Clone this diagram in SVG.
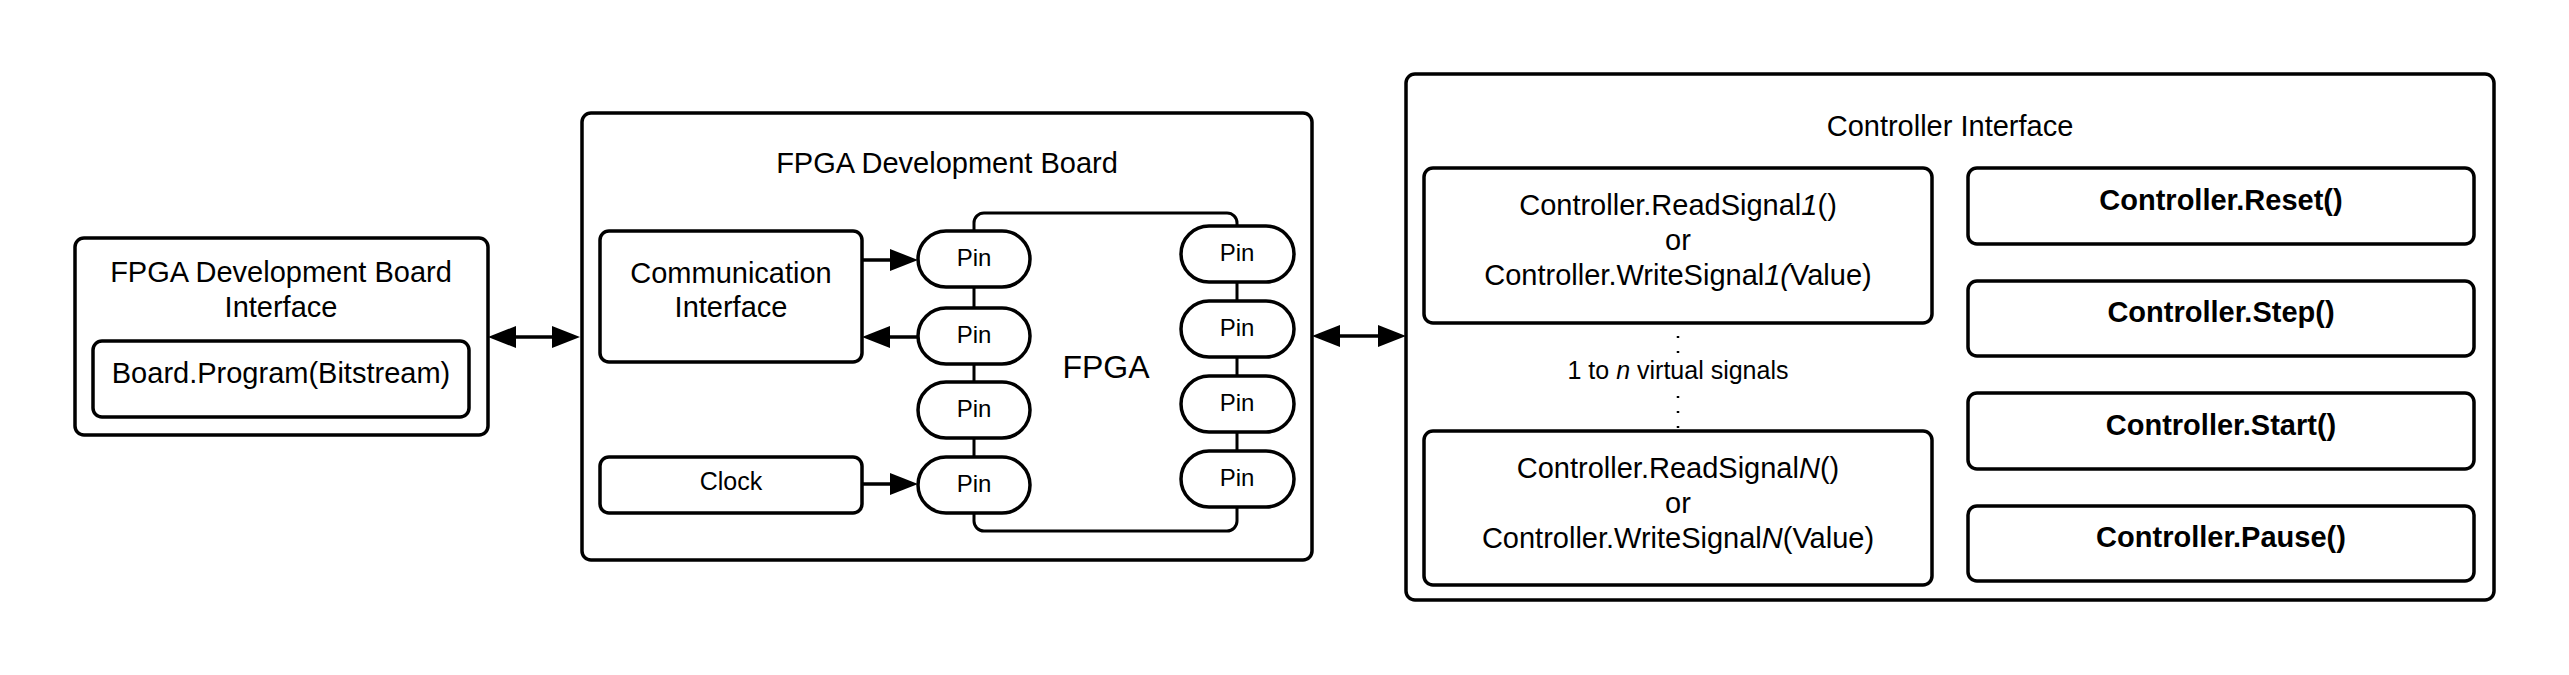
<svg xmlns="http://www.w3.org/2000/svg" width="2569" height="675" viewBox="0 0 2569 675">
<style>
.box{fill:#fff;stroke:#000;stroke-width:3.5}
.pin{fill:#fff;stroke:#000;stroke-width:3.5}
.chip{fill:#fff;stroke:#000;stroke-width:3}
.t{font-family:"Liberation Sans",Arial,sans-serif;font-size:29px;fill:#000;text-anchor:middle}
.b{font-weight:bold}
.p{font-size:24px}
.s{font-size:25px}
.f{font-size:32px}
.c{stroke:#000;stroke-width:3.5;fill:none}
.dot{stroke:#000;stroke-width:2.5;fill:none;stroke-dasharray:2 13}
</style>
<defs>
<marker id="ah" markerUnits="userSpaceOnUse" markerWidth="30" markerHeight="24" refX="22" refY="11" orient="auto-start-reverse">
<path d="M0,0 L28,11 L0,22 z" fill="#000"/>
</marker>
</defs>
<rect width="2569" height="675" fill="#fff"/>

<g id="board-interface">
<rect class="box" x="75" y="238" width="413" height="197" rx="9"/>
<text class="t" x="281" y="282">FPGA Development Board</text>
<text class="t" x="281" y="317">Interface</text>
<g id="board-program">
<rect class="box" x="93" y="341" width="376" height="76" rx="9"/>
<text class="t" x="281" y="383">Board.Program(Bitstream)</text>
</g>
</g>

<g id="dev-board">
<rect class="box" x="582" y="113" width="730" height="447" rx="9"/>
<text class="t" x="947" y="173">FPGA Development Board</text>
</g>

<g id="comm-interface">
<rect class="box" x="600" y="231" width="262" height="131" rx="9"/>
<text class="t" x="731" y="283">Communication</text>
<text class="t" x="731" y="317">Interface</text>
</g>

<g id="clock">
<rect class="box" x="600" y="457" width="262" height="56" rx="9"/>
<text class="t s" x="731" y="490">Clock</text>
</g>

<g id="fpga">
<rect class="chip" x="974" y="213" width="263" height="318" rx="10"/>
<text class="t f" x="1106" y="378">FPGA</text>
<g id="pin-l1"><rect class="pin" x="918" y="231" width="112" height="56" rx="28"/><text class="t p" x="974" y="266">Pin</text></g>
<g id="pin-l2"><rect class="pin" x="918" y="308" width="112" height="56" rx="28"/><text class="t p" x="974" y="343">Pin</text></g>
<g id="pin-l3"><rect class="pin" x="918" y="382" width="112" height="56" rx="28"/><text class="t p" x="974" y="417">Pin</text></g>
<g id="pin-l4"><rect class="pin" x="918" y="457" width="112" height="56" rx="28"/><text class="t p" x="974" y="492">Pin</text></g>
<g id="pin-r1"><rect class="pin" x="1181" y="226" width="113" height="56" rx="28"/><text class="t p" x="1237" y="261">Pin</text></g>
<g id="pin-r2"><rect class="pin" x="1181" y="301" width="113" height="56" rx="28"/><text class="t p" x="1237" y="336">Pin</text></g>
<g id="pin-r3"><rect class="pin" x="1181" y="376" width="113" height="56" rx="28"/><text class="t p" x="1237" y="411">Pin</text></g>
<g id="pin-r4"><rect class="pin" x="1181" y="451" width="113" height="56" rx="28"/><text class="t p" x="1237" y="486">Pin</text></g>
</g>

<g id="controller-interface">
<rect class="box" x="1406" y="74" width="1088" height="526" rx="9"/>
<text class="t" x="1950" y="136">Controller Interface</text>
</g>

<g id="signal-1">
<rect class="box" x="1424" y="168" width="508" height="155" rx="9"/>
<text class="t" x="1678" y="215">Controller.ReadSignal<tspan font-style="italic">1</tspan>()</text>
<text class="t" x="1678" y="250">or</text>
<text class="t" x="1678" y="285">Controller.WriteSignal<tspan font-style="italic">1(</tspan>Value)</text>
</g>

<g id="signal-n">
<rect class="box" x="1424" y="431" width="508" height="154" rx="9"/>
<text class="t" x="1678" y="478">Controller.ReadSignal<tspan font-style="italic">N</tspan>()</text>
<text class="t" x="1678" y="513">or</text>
<text class="t" x="1678" y="548">Controller.WriteSignal<tspan font-style="italic">N</tspan>(Value)</text>
</g>

<g id="virtual-signals">
<text class="t s" x="1678" y="379">1 to <tspan font-style="italic">n</tspan> virtual signals</text>
</g>

<g id="reset"><rect class="box" x="1968" y="168" width="506" height="76" rx="9"/><text class="t b" x="2221" y="210">Controller.Reset()</text></g>
<g id="step"><rect class="box" x="1968" y="281" width="506" height="75" rx="9"/><text class="t b" x="2221" y="322">Controller.Step()</text></g>
<g id="start"><rect class="box" x="1968" y="393" width="506" height="76" rx="9"/><text class="t b" x="2221" y="435">Controller.Start()</text></g>
<g id="pause"><rect class="box" x="1968" y="506" width="506" height="75" rx="9"/><text class="t b" x="2221" y="547">Controller.Pause()</text></g>

<g id="connectors">
<line class="c" x1="494" y1="337" x2="574" y2="337" marker-start="url(#ah)" marker-end="url(#ah)"/>
<line class="c" x1="1318" y1="336" x2="1400" y2="336" marker-start="url(#ah)" marker-end="url(#ah)"/>
<line class="c" x1="862" y1="260" x2="912" y2="260" marker-end="url(#ah)"/>
<line class="c" x1="918" y1="337" x2="868" y2="337" marker-end="url(#ah)"/>
<line class="c" x1="862" y1="484" x2="912" y2="484" marker-end="url(#ah)"/>
<line class="dot" x1="1678" y1="336" x2="1678" y2="356"/>
<line class="dot" x1="1678" y1="396" x2="1678" y2="431"/>
</g>
</svg>
